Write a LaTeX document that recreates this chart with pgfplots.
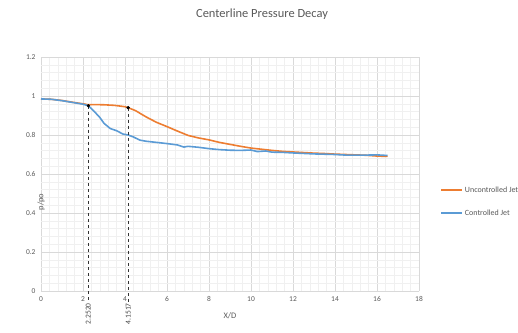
\documentclass[border=0pt]{standalone}
\usepackage{pgfplots}
\pgfplotsset{compat=1.18}
\usepackage{fontspec}
\setmainfont{Carlito}
\definecolor{uncol}{HTML}{ED7D31}
\definecolor{col}{HTML}{5B9BD5}
\definecolor{txt}{HTML}{595959}
\definecolor{majg}{HTML}{D9D9D9}
\definecolor{ming}{HTML}{F0F0F0}
\begin{document}
\begin{tikzpicture}[x=1bp,y=1bp]
\useasboundingbox (0,0) rectangle (518,332);
\node[font=\fontsize{12.5}{14}\selectfont, text=txt] at (262,318) {Centerline Pressure Decay};
\begin{axis}[
  at={(41bp,41bp)}, anchor=south west,
  scale only axis, width=378bp, height=234bp,
  xmin=0, xmax=18, ymin=0, ymax=1.2,
  enlargelimits=false, clip=false,
  xtick={0,2,...,18}, ytick={0,0.2,...,1.2},
  minor tick num=4,
  grid=both,
  major grid style={majg, line width=0.6pt},
  minor grid style={ming, line width=0.4pt},
  axis line style={draw=none},
  axis x line*=bottom, axis y line*=left,
  x axis line style={draw=majg},
  tick style={draw=none},
  ticklabel style={font=\fontsize{7.5}{8}\selectfont, text=txt},
  /pgf/number format/assume math mode=true,
  yticklabel style={xshift=-2bp},
  xticklabel style={yshift=-2bp},
  xlabel={X/D}, ylabel={p/po},
  label style={font=\fontsize{8.5}{9}\selectfont, text=txt},
  xlabel style={at={(rel axis cs:0.5,0)}, anchor=center, yshift=-25bp},
  ylabel style={at={(rel axis cs:0,0.5)}, anchor=center, xshift=-28bp},
  legend style={at={(rel axis cs:1.056,0.455)}, anchor=north west, draw=none, fill=none,
    font=\fontsize{8}{9}\selectfont, text=txt, row sep=12bp, inner sep=0pt,
    /tikz/every even column/.append style={column sep=1bp}},
  legend cell align=left,
  legend image code/.code={\draw[#1] (0bp,0bp) -- (21bp,0bp);},
]
\addplot[uncol, line width=1.6pt] coordinates {
(0,0.985) (0.5,0.983) (1.0,0.977) (1.5,0.968) (2.0,0.960) (2.25,0.955) (2.5,0.956)
(3.0,0.955) (3.5,0.952) (4.0,0.945) (4.15,0.940) (4.5,0.925) (5.0,0.893) (5.5,0.865)
(6.0,0.843) (6.5,0.820) (7.0,0.798) (7.5,0.785) (8.0,0.775) (8.5,0.762) (9.0,0.752)
(9.5,0.742) (10.0,0.733) (10.5,0.727) (11.0,0.721) (11.5,0.716) (12.0,0.713)
(12.5,0.710) (13.0,0.707) (13.5,0.705) (14.0,0.702) (14.5,0.700) (15.0,0.698)
(15.5,0.696) (16.0,0.692) (16.5,0.690)};
\addlegendentry{Uncontrolled Jet}
\addplot[col, line width=1.6pt] coordinates {
(0,0.985) (0.5,0.983) (1.0,0.976) (1.5,0.967) (2.0,0.958) (2.25,0.950) (2.5,0.925)
(2.8,0.890) (3.0,0.860) (3.3,0.833) (3.6,0.822) (3.9,0.805) (4.15,0.800) (4.4,0.790)
(4.7,0.774) (5.0,0.768) (5.5,0.762) (6.0,0.756) (6.5,0.749) (6.8,0.738) (7.0,0.742)
(7.5,0.737) (8.0,0.730) (8.5,0.725) (9.0,0.722) (9.5,0.721) (10.0,0.723) (10.3,0.715)
(10.7,0.718) (11.0,0.712) (11.5,0.711) (12.0,0.708) (13.0,0.703) (14.0,0.700)
(14.5,0.697) (15.0,0.697) (15.5,0.697) (16.0,0.698) (16.5,0.695)};
\addlegendentry{Controlled Jet}
\addplot[black!80, dashed, line width=0.5pt, forget plot] coordinates {(2.252,0.95) (2.252,-0.057)};
\addplot[black!80, dashed, line width=0.5pt, forget plot] coordinates {(4.1517,0.94) (4.1517,-0.057)};
\addplot[only marks, mark=*, mark size=1.5pt, black, forget plot] coordinates {(2.252,0.95) (4.1517,0.94)};
\node[rotate=90, anchor=east, font=\fontsize{7.5}{8}\selectfont, text=black!75, inner sep=1pt] at (axis cs:2.252,-0.057) {2.2520};
\node[rotate=90, anchor=east, font=\fontsize{7.5}{8}\selectfont, text=black!75, inner sep=1pt] at (axis cs:4.1517,-0.057) {4.1517};
\end{axis}
\end{tikzpicture}
\end{document}
